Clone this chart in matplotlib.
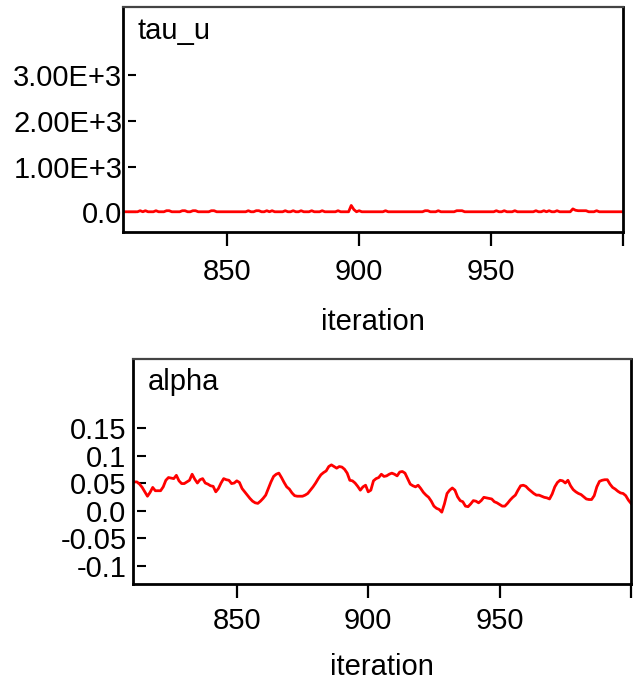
import matplotlib
matplotlib.use("Agg")
import matplotlib.pyplot as plt
from matplotlib.lines import Line2D

plt.rcParams['font.family'] = ['Liberation Sans', 'DejaVu Sans']

# ---------------- data ----------------
iterations = list(range(811, 1001))

tau_u = [
    12, 12, 12, 12, 12, 12, 35, 12, 35, 12,
    12, 12, 35, 12, 12, 12, 35, 35, 12, 12,
    12, 12, 35, 35, 12, 12, 35, 35, 12, 12,
    12, 12, 12, 35, 35, 12, 12, 12, 12, 12,
    12, 12, 12, 12, 12, 12, 12, 35, 12, 12,
    35, 35, 12, 12, 35, 12, 35, 12, 12, 12,
    12, 35, 12, 12, 35, 12, 12, 35, 12, 12,
    12, 35, 12, 12, 12, 35, 12, 12, 12, 12,
    12, 35, 12, 12, 12, 12, 150, 60, 12, 35,
    12, 12, 12, 12, 12, 12, 12, 12, 12, 35,
    12, 12, 12, 12, 12, 12, 12, 12, 12, 12,
    12, 12, 12, 12, 35, 35, 12, 12, 12, 35,
    12, 12, 12, 12, 12, 12, 35, 35, 35, 12,
    12, 12, 12, 12, 12, 12, 12, 12, 12, 12,
    12, 35, 12, 12, 35, 12, 12, 12, 35, 12,
    12, 12, 12, 12, 12, 12, 35, 12, 12, 35,
    12, 35, 12, 12, 35, 12, 12, 12, 12, 12,
    75, 45, 35, 35, 35, 35, 12, 12, 12, 35,
    12, 12, 12, 12, 12, 12, 12, 12, 12, 12,
]

alpha = [
    0.052, 0.052, 0.048, 0.042, 0.034, 0.026, 0.033, 0.042, 0.036, 0.036,  # 811-820
    0.036, 0.043, 0.055, 0.060, 0.059, 0.058, 0.064, 0.054, 0.049, 0.049,  # 821-830
    0.052, 0.055, 0.066, 0.057, 0.050, 0.056, 0.058, 0.050, 0.048, 0.045,  # 831-840
    0.044, 0.034, 0.040, 0.050, 0.058, 0.056, 0.055, 0.049, 0.050, 0.054,  # 841-850
    0.051, 0.040, 0.034, 0.028, 0.022, 0.017, 0.014, 0.013, 0.017, 0.022,  # 851-860
    0.028, 0.040, 0.052, 0.062, 0.066, 0.068, 0.060, 0.051, 0.043, 0.039,  # 861-870
    0.032, 0.027, 0.026, 0.026, 0.026, 0.028, 0.031, 0.037, 0.043, 0.050,  # 871-880
    0.058, 0.065, 0.069, 0.072, 0.080, 0.083, 0.080, 0.077, 0.080, 0.079,  # 881-890
    0.075, 0.068, 0.055, 0.054, 0.050, 0.044, 0.037, 0.043, 0.046, 0.034,  # 891-900
    0.037, 0.054, 0.058, 0.060, 0.066, 0.062, 0.063, 0.066, 0.068, 0.066,  # 901-910
    0.063, 0.070, 0.071, 0.068, 0.058, 0.048, 0.045, 0.043, 0.046, 0.040,  # 911-920
    0.033, 0.028, 0.024, 0.017, 0.008, 0.004, 0.002, -0.003, 0.012, 0.031,  # 921-930
    0.037, 0.041, 0.037, 0.025, 0.018, 0.016, 0.008, 0.007, 0.012, 0.018,  # 931-940
    0.017, 0.014, 0.018, 0.024, 0.023, 0.022, 0.021, 0.016, 0.014, 0.011,  # 941-950
    0.008, 0.008, 0.013, 0.019, 0.024, 0.028, 0.037, 0.045, 0.046, 0.044,  # 951-960
    0.039, 0.035, 0.031, 0.028, 0.028, 0.026, 0.024, 0.023, 0.021, 0.030,  # 961-970
    0.043, 0.051, 0.055, 0.054, 0.050, 0.055, 0.045, 0.038, 0.034, 0.031,  # 971-980
    0.029, 0.025, 0.021, 0.020, 0.020, 0.027, 0.043, 0.053, 0.055, 0.056,  # 981-990
    0.056, 0.048, 0.042, 0.039, 0.035, 0.032, 0.031, 0.027, 0.019, 0.013,  # 991-1000
]

x_ticks = [850, 900, 950, 1000]
x_tick_labels = ['850', '900', '950', '']
tau_ticks = [0, 1000, 2000, 3000]
tau_tick_labels = ['0.0', '1.00E+3', '2.00E+3', '3.00E+3']
alpha_ticks = [-0.1, -0.05, 0.0, 0.05, 0.1, 0.15]
alpha_tick_labels = ['-0.1', '-0.05', '0.0', '0.05', '0.1', '0.15']

# ---------------- figure ----------------
W, H = 635, 684
fig = plt.figure(figsize=(W / 100, H / 100), dpi=100)
FS = 21


def style(ax, ylim, yticks, ylabels, title, tick_in_off, ytick_len, ypad, xpad,
          title_y, labelpad):
    ax.set_xlim(810.5, 1000)
    ax.set_ylim(*ylim)
    ax.set_xticks(x_ticks)
    ax.set_xticklabels(x_tick_labels)
    ax.set_yticks(yticks)
    ax.set_yticklabels(ylabels)
    for s in ['bottom', 'right']:
        ax.spines[s].set_linewidth(2)
        ax.spines[s].set_color('black')
    ax.spines['top'].set_linewidth(1.6)
    ax.spines['top'].set_color('#444444')
    ax.spines['left'].set_position(('outward', -tick_in_off))
    ax.spines['left'].set_visible(False)
    ax.add_line(Line2D([0, 0], [0, 1], transform=ax.transAxes, color='black',
                       lw=2, clip_on=False))
    ax.tick_params(axis='x', direction='out', length=10, width=1.6,
                   labelsize=FS, pad=xpad)
    ax.tick_params(axis='y', direction='in', length=ytick_len, width=1.5,
                   labelsize=FS, pad=ypad)
    ax.set_xlabel('iteration', fontsize=FS, labelpad=labelpad)
    ax.text(0.029, title_y, title, transform=ax.transAxes, fontsize=FS,
            va='baseline', ha='left')


ax1 = fig.add_axes([123 / W, 1 - 232 / H, 500 / W, 225 / H])
ax1.plot(iterations, tau_u, color='#ff0000', lw=2)
style(ax1, (-430, 4485), tau_ticks, tau_tick_labels, 'tau_u',
      tick_in_off=3.6, ytick_len=5.8, ypad=4.0, xpad=8.5, title_y=0.858,
      labelpad=16)

ax2 = fig.add_axes([133 / W, 1 - 584 / H, 498 / W, 225 / H])
ax2.plot(iterations, alpha, color='#ff0000', lw=2)
style(ax2, (-0.1336, 0.2755), alpha_ticks, alpha_tick_labels, 'alpha',
      tick_in_off=2.9, ytick_len=6.5, ypad=7.5, xpad=6.8, title_y=0.862,
      labelpad=13)

fig.savefig('out.png', dpi=100)
